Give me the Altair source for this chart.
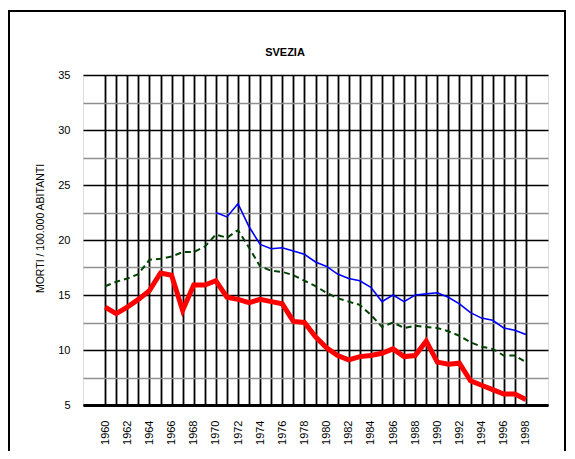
import altair as alt
import pandas as pd

years = list(range(1960, 1999))
red_vals = [13.9, 13.3, 13.9, 14.6, 15.4, 17.0, 16.8, 13.6, 15.9, 15.9,
            16.3, 14.8, 14.6, 14.3, 14.6, 14.4, 14.2, 12.6, 12.5, 11.2,
            10.2, 9.5, 9.1, 9.4, 9.5, 9.7, 10.1, 9.4, 9.5, 10.8,
            8.9, 8.7, 8.8, 7.2, 6.8, 6.4, 6.0, 6.0, 5.5]
green_vals = [15.8, 16.2, 16.5, 16.9, 18.2, 18.3, 18.5, 18.9, 18.9, 19.4,
              20.5, 20.2, 20.9, 19.3, 17.6, 17.2, 17.1, 16.8, 16.3, 15.8,
              15.2, 14.7, 14.4, 14.1, 13.2, 12.1, 12.5, 12.0, 12.2, 12.1,
              12.0, 11.7, 11.3, 10.7, 10.3, 10.1, 9.5, 9.5, 8.9]
blue_years = list(range(1970, 1999))
blue_vals = [22.5, 22.1, 23.3, 21.2, 19.6, 19.2, 19.3, 19.0, 18.7, 18.0,
             17.6, 16.9, 16.5, 16.3, 15.7, 14.4, 15.0, 14.4, 15.0, 15.1,
             15.2, 14.8, 14.2, 13.4, 12.9, 12.7, 12.0, 11.8, 11.4]
x_ticks = list(range(1960, 1999))
y_ticks = [5, 7.5, 10, 12.5, 15, 17.5, 20, 22.5, 25, 27.5, 30, 32.5, 35]

title_text = "SVEZIA"
y_title = "MORTI / 100.000 ABITANTI"

red_df = pd.DataFrame({"anno": years, "valore": red_vals})
green_df = pd.DataFrame({"anno": years, "valore": green_vals})
blue_df = pd.DataFrame({"anno": blue_years, "valore": blue_vals})

FONT = "Liberation Sans"

x_axis = alt.Axis(
    values=x_ticks,
    labelExpr="datum.value % 2 == 0 ? datum.label : ''",
    format="d",
    labelAngle=270,
    labelPadding=15,
    labelFontSize=11,
    labelFont=FONT,
    labelColor="black",
    labelOverlap=False,
    labelFlush=False,
    ticks=False,
    tickSize=0,
    grid=True,
    gridColor="black",
    gridWidth=1.8,
    domainColor="black",
    domainWidth=3,
    title=None,
)
y_axis = alt.Axis(
    values=y_ticks,
    labelExpr="datum.value % 5 == 0 ? datum.label : ''",
    labelPadding=13,
    labelFontSize=11,
    labelFont=FONT,
    labelColor="black",
    labelOverlap=False,
    labelFlush=False,
    ticks=False,
    tickSize=0,
    grid=True,
    gridColor={"condition": {"test": "datum.value % 5 == 0", "value": "black"}, "value": "#909090"},
    gridWidth=1.5,
    domain=False,
    title=y_title,
    titleFont=FONT,
    titleFontSize=10.5,
    titleFontWeight="normal",
    titleColor="black",
    titlePadding=12,
    titleY=153,
)

x_enc = alt.X("anno:Q", scale=alt.Scale(domain=[1958, 2000], nice=False, zero=False), axis=x_axis)
y_enc = alt.Y("valore:Q", scale=alt.Scale(domain=[5, 35], nice=False, zero=False), axis=y_axis)

blue = alt.Chart(blue_df).mark_line(color="#0000FF", strokeWidth=1.6).encode(x=x_enc, y=y_enc)
green = alt.Chart(green_df).mark_line(color="#004400", strokeWidth=2, strokeDash=[6, 4]).encode(x=x_enc, y=y_enc)
red = alt.Chart(red_df).mark_line(color="#FF0000", strokeWidth=5, strokeJoin="miter").encode(x=x_enc, y=y_enc)

one = pd.DataFrame({"k": [0]})
frame = alt.Chart(one).mark_rect(
    fill="transparent", stroke="black", strokeWidth=2
).encode(x=alt.value(-74), x2=alt.value(482), y=alt.value(-64), y2=alt.value(400))

title = alt.Chart(one).mark_text(
    text=title_text, fontSize=11, fontWeight="bold", font=FONT, color="black",
    align="center", baseline="middle"
).encode(x=alt.value(202), y=alt.value(-22))

chart = alt.layer(blue, green, red, frame, title).properties(
    width=465,
    height=330,
    autosize=alt.AutoSizeParams(type="none"),
    padding={"left": 75, "top": 67, "right": 19, "bottom": 46},
).configure_view(stroke="black", strokeWidth=1.5).configure(background="white")

chart.save("out.html", embed_options={"renderer": "svg", "actions": False})
